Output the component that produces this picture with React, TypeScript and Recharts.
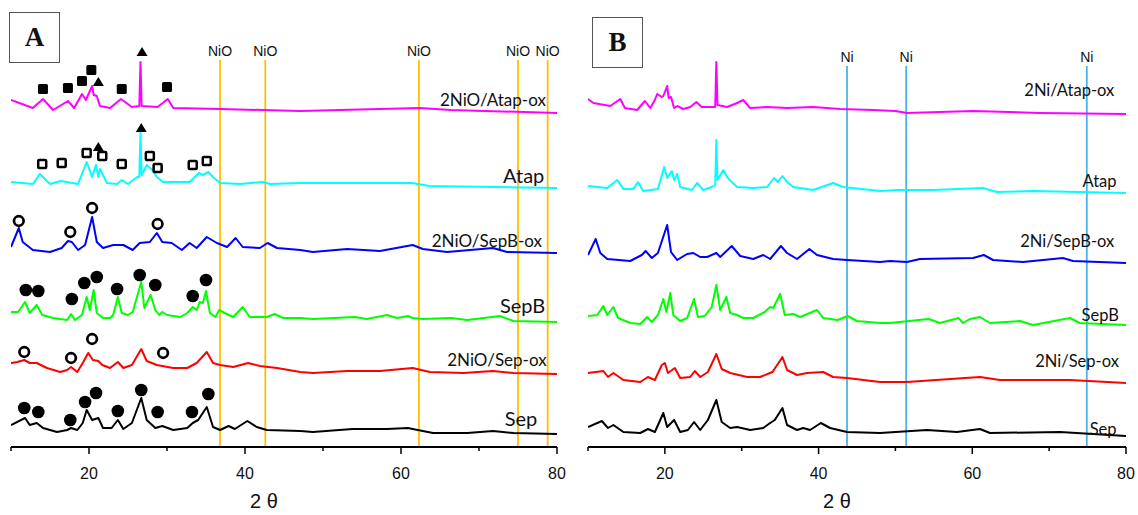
import {
  ComposedChart,
  Line,
  Scatter,
  XAxis,
  YAxis,
  ReferenceLine,
  ReferenceDot,
} from "recharts";

type Pt = [number, number];

// x = 2θ (deg), y = intensity (a.u., already offset for stacking)

// ---- Panel A ----
const atapOxA: Pt[] = [
  [10, 347], [12.8, 339], [14.1, 348], [15.4, 337], [17.3, 346], [18.1, 339], [19.1, 353],
  [19.6, 347], [20.4, 361], [20.6, 352], [21.0, 351], [21.4, 341], [22.7, 339], [24.1, 348],
  [25.5, 340], [26.45, 341], [26.6, 385], [26.75, 341], [28.8, 340], [30.1, 348], [30.8, 339],
  [36.8, 338], [47.1, 336], [62.4, 339], [66.4, 337], [80, 334],
];
const atapA: Pt[] = [
  [10, 265], [12.8, 263], [13.7, 273], [15.0, 263], [16.4, 266], [18.6, 263], [19.7, 285],
  [20.4, 270], [20.9, 282], [21.2, 270], [21.4, 278], [22.3, 264], [23.6, 263], [24.2, 267],
  [25.0, 263], [26.2, 270], [26.45, 270], [26.6, 314], [26.75, 272], [27.4, 282], [28.1, 277],
  [28.7, 270], [29.5, 265], [32.9, 265], [34.1, 274], [34.6, 272], [35.3, 275], [35.9, 270],
  [36.8, 264], [39.4, 263], [42.3, 265], [43.2, 263], [47.1, 264], [61.4, 264], [63.7, 261],
  [80, 259],
];
const sepBOxA: Pt[] = [
  [10, 200], [11.0, 219], [11.5, 205], [12.8, 197], [15.0, 195], [16.5, 199], [17.3, 206],
  [17.8, 205], [18.6, 197], [19.5, 202], [20.4, 230], [21.0, 205], [21.8, 199], [23.1, 202],
  [24.4, 202], [25.6, 197], [26.5, 204], [27.8, 205], [28.7, 214], [29.4, 205], [30.6, 204],
  [31.9, 197], [32.9, 204], [33.8, 199], [35.1, 210], [36.4, 204], [37.7, 200], [38.8, 209],
  [39.7, 200], [41.9, 199], [42.9, 204], [44.1, 199], [47.1, 197], [48.7, 195], [53.1, 198],
  [57.3, 196], [61.5, 202], [62.8, 198], [65.9, 195], [71.8, 199], [73.6, 195], [80, 194],
];
const sepBA: Pt[] = [
  [10, 135], [10.9, 135], [11.8, 145], [12.4, 134], [13.3, 142], [14.0, 132], [15.4, 129],
  [17.2, 127], [17.7, 133], [18.2, 127], [19.1, 132], [19.7, 150], [20.1, 137], [20.6, 157],
  [21.0, 134], [21.8, 129], [22.7, 129], [23.1, 132], [23.7, 150], [24.2, 134], [25.0, 132],
  [25.6, 135], [26.7, 165], [27.1, 139], [27.9, 152], [28.5, 137], [29.0, 132], [29.4, 135],
  [30.0, 132], [31.7, 130], [32.6, 134], [33.3, 140], [33.8, 137], [34.2, 145], [34.6, 144],
  [35.0, 156], [35.5, 134], [36.2, 130], [36.7, 137], [37.4, 134], [38.5, 130], [39.7, 140],
  [40.6, 130], [42.8, 130], [43.8, 133], [44.9, 129], [47.1, 129], [48.7, 128], [54.1, 130],
  [55.6, 128], [58.2, 132], [59.5, 129], [60.9, 131], [61.5, 129], [62.8, 128], [66.4, 129],
  [68.5, 127], [72.7, 131], [74.4, 126], [80, 125],
];
const sepOxA: Pt[] = [
  [10, 84], [10.8, 85], [11.7, 87], [12.4, 84], [13.3, 84], [14.6, 79], [16.3, 75], [17.2, 77],
  [17.7, 80], [18.5, 75], [19.2, 84], [19.9, 94], [20.5, 87], [21.2, 86], [21.7, 82], [22.7, 79],
  [23.7, 85], [24.4, 79], [25.5, 82], [26.7, 98], [27.4, 86], [28.7, 82], [30.8, 79], [32.6, 79],
  [33.8, 84], [35.1, 95], [35.9, 84], [36.8, 82], [38.5, 80], [40.4, 84], [41.9, 81], [44.1, 79],
  [47.1, 75], [48.7, 74], [53.1, 76], [57.3, 76], [61.5, 79], [63.7, 75], [68.0, 74], [71.8, 76],
  [74.4, 74], [80, 73],
];
const sepA: Pt[] = [
  [10, 22], [11.8, 29], [12.4, 22], [13.3, 24], [14.1, 19], [15.9, 15], [17.2, 17], [17.7, 19],
  [18.5, 17], [19.2, 24], [19.7, 37], [20.4, 27], [21.2, 29], [21.8, 19], [22.9, 19], [23.7, 27],
  [24.4, 18], [25.5, 24], [26.7, 49], [27.4, 27], [28.5, 19], [29.4, 21], [30.8, 17], [32.6, 19],
  [33.3, 24], [34.0, 27], [35.1, 40], [35.9, 20], [36.8, 17], [37.9, 21], [38.7, 18], [40.3, 26],
  [41.5, 20], [42.8, 17], [47.1, 16], [48.7, 15], [53.8, 18], [58.2, 18], [60.9, 19], [61.5, 18],
  [64.1, 14], [68.5, 14], [71.8, 16], [74.4, 14], [80, 13],
];

// phase markers, panel A
const filledSquaresA: Pt[] = [[14.1, 358], [17.3, 359], [19.1, 366], [20.3, 377], [24.2, 358], [30.0, 360]];
const openSquaresA: Pt[] = [
  [14.0, 283], [16.5, 284], [19.7, 294], [21.7, 291], [24.2, 283], [27.8, 291], [28.8, 279],
  [33.3, 282], [35.1, 286],
];
const trianglesA: Pt[] = [[21.2, 365], [26.8, 395], [21.2, 300], [26.7, 319]];
const openCirclesA: Pt[] = [
  [11.0, 226], [17.6, 215], [20.4, 239], [28.8, 223],
  [11.7, 95], [17.7, 89], [20.4, 108], [29.5, 94],
];
const filledCirclesA: Pt[] = [
  [11.9, 157], [13.5, 156], [17.8, 148], [19.4, 164], [21.0, 170], [23.6, 158], [26.5, 172],
  [28.5, 162], [33.3, 151], [35.0, 167],
  [11.7, 39], [13.5, 35], [17.6, 27], [19.5, 45], [20.9, 54], [23.7, 36], [26.7, 57],
  [28.8, 35], [33.2, 35], [35.3, 53],
];

const nioLines = [36.8, 42.6, 62.3, 75.0, 78.8];

// ---- Panel B ----
const atapOxB: Pt[] = [
  [10, 348], [10.7, 344], [12.9, 341], [14.2, 348], [14.8, 339], [16.4, 337], [17.4, 346],
  [18.1, 339], [18.7, 347], [19.0, 353], [19.6, 350], [19.8, 351], [20.3, 361], [20.5, 349],
  [20.8, 350], [21.2, 339], [21.6, 341], [22.4, 338], [23.3, 340], [24.1, 345], [24.8, 340],
  [26.1, 340], [26.55, 340], [26.7, 385], [26.85, 342], [28.1, 340], [29.4, 344], [30.2, 347],
  [31.1, 339], [33.3, 340], [35.9, 339], [39.3, 340], [42.8, 338], [47.1, 337], [50.0, 336],
  [51.5, 334], [60.1, 336], [68.8, 334], [80, 333],
];
const atapB: Pt[] = [
  [10, 261], [12.5, 259], [13.8, 267], [14.6, 258], [15.9, 258], [16.5, 265], [17.2, 256],
  [19.1, 258], [19.9, 280], [20.3, 269], [20.9, 276], [21.2, 267], [21.6, 273], [22.0, 260],
  [23.5, 257], [24.2, 264], [25.0, 257], [26.1, 260], [26.55, 262], [26.7, 307], [26.85, 267],
  [27.6, 277], [28.1, 270], [28.7, 265], [29.4, 260], [31.5, 259], [33.3, 260], [34.2, 269],
  [34.7, 265], [35.3, 271], [35.9, 265], [36.7, 260], [39.3, 257], [41.9, 264], [43.2, 260],
  [48.0, 256], [50.2, 257], [54.9, 257], [61.4, 259], [63.2, 255], [67.9, 256], [80, 254],
];
const sepBOxB: Pt[] = [
  [10, 192], [11.0, 208], [11.6, 194], [12.5, 188], [15.5, 186], [17.0, 192], [17.5, 196],
  [18.3, 189], [19.1, 194], [20.3, 222], [20.8, 195], [21.6, 187], [22.9, 193], [23.7, 194],
  [24.6, 190], [25.5, 190], [26.7, 194], [27.2, 190], [28.7, 201], [29.8, 191], [31.5, 188],
  [32.8, 192], [33.7, 188], [35.1, 201], [35.9, 194], [37.2, 188], [38.8, 198], [39.8, 192],
  [41.9, 188], [43.7, 187], [48.0, 185], [49.3, 186], [51.5, 185], [53.2, 188], [60.1, 189],
  [61.5, 192], [62.7, 187], [66.6, 185], [71.8, 189], [73.1, 186], [80, 184],
];
const sepBB: Pt[] = [
  [10, 131], [11.2, 132], [12.0, 141], [12.5, 132], [13.3, 140], [13.9, 129], [15.5, 124],
  [16.8, 123], [17.7, 130], [18.3, 125], [19.1, 132], [19.8, 148], [20.2, 135], [20.7, 154],
  [21.1, 132], [22.0, 126], [22.9, 129], [23.8, 148], [24.3, 130], [25.2, 131], [26.1, 140],
  [26.7, 162], [27.2, 137], [28.0, 150], [28.5, 134], [29.4, 132], [30.2, 129], [31.5, 129],
  [33.0, 135], [33.7, 140], [34.1, 139], [35.0, 153], [35.6, 132], [36.7, 133], [37.6, 130],
  [39.8, 137], [40.6, 129], [42.5, 127], [43.8, 131], [45.0, 126], [48.0, 124], [49.3, 124],
  [54.3, 128], [55.8, 124], [58.2, 129], [58.8, 124], [59.7, 128], [61.0, 130], [62.3, 124],
  [66.2, 126], [67.9, 122], [72.7, 129], [74.0, 124], [80, 122],
];
const sepOxB: Pt[] = [
  [10, 74], [12.0, 76], [12.6, 70], [13.3, 74], [14.6, 67], [16.8, 65], [17.8, 70], [18.7, 67],
  [19.6, 82], [20.0, 84], [20.4, 74], [21.3, 79], [22.0, 69], [23.3, 70], [23.9, 76], [24.6, 70],
  [25.6, 75], [26.7, 93], [27.4, 78], [28.5, 74], [30.7, 70], [32.4, 70], [34.0, 75], [35.3, 90],
  [35.9, 77], [37.2, 72], [38.5, 74], [40.6, 75], [41.9, 70], [43.7, 69], [48.0, 65], [51.5, 65],
  [61.0, 70], [63.6, 67], [72.7, 67], [80, 64],
];
const sepB: Pt[] = [
  [10, 20], [11.8, 26], [12.6, 19], [13.3, 22], [14.6, 15], [16.8, 14], [17.8, 18], [18.7, 15],
  [19.4, 27], [19.8, 34], [20.3, 20], [21.2, 27], [22.0, 15], [23.0, 17], [23.8, 25], [24.6, 17],
  [25.6, 27], [26.7, 47], [27.4, 25], [28.5, 19], [29.4, 20], [31.1, 17], [32.8, 19], [33.7, 24],
  [34.3, 27], [35.3, 39], [35.9, 22], [37.2, 17], [38.0, 19], [38.9, 17], [40.3, 24], [41.5, 19],
  [43.7, 15], [48.0, 14], [54.1, 17], [58.0, 15], [61.0, 18], [62.3, 14], [71.4, 15], [80, 11],
];

const niLines = [43.7, 51.4, 74.9];

const xTicks = [10, 20, 30, 40, 50, 60, 70, 80];

const toRows = (pts: Pt[]) => pts.map(([x, y]) => ({ x, y }));

const FilledSquare = (p: any) => (
  <rect x={p.cx - 5} y={p.cy - 5} width={10} height={10} rx={1.5} fill="#000" />
);
const OpenSquare = (p: any) => (
  <rect x={p.cx - 4} y={p.cy - 4} width={8} height={8} rx={1} fill="#fff" stroke="#000" strokeWidth={2.5} />
);
const Triangle = (p: any) => (
  <path d={`M${p.cx},${p.cy - 5} L${p.cx + 5.5},${p.cy + 4} L${p.cx - 5.5},${p.cy + 4} Z`} fill="#000" />
);
const OpenCircle = (p: any) => (
  <circle cx={p.cx} cy={p.cy} r={4.8} fill="#fff" stroke="#000" strokeWidth={2.7} />
);
const FilledCircle = (p: any) => <circle cx={p.cx} cy={p.cy} r={6.3} fill="#000" />;

const AxisTick = (props: any) => {
  const { x, y, payload } = props;
  const major = payload.value % 20 === 0;
  return (
    <g>
      <line x1={x} y1={y} x2={x} y2={y + (major ? 7 : 4)} stroke="#000" strokeWidth={1.5} />
      {major && (
        <text x={x} y={y + 32} textAnchor="middle" fontSize={16} fontFamily="Liberation Sans, Arial" fill="#111">
          {payload.value}
        </text>
      )}
    </g>
  );
};

interface Trace {
  pts: Pt[];
  color: string;
  label: string;
  lx: number;
  ly: number;
  size: number;
}

interface Marks {
  pts: Pt[];
  shape: (p: any) => JSX.Element;
}

interface PanelProps {
  width: number;
  left: number;
  right: number;
  traces: Trace[];
  marks: Marks[];
  refLines: number[];
  refTop: number;
  refColor: string;
  refLabel: string;
}

const Panel = ({ width, left, right, traces, marks, refLines, refTop, refColor, refLabel }: PanelProps) => (
  <ComposedChart width={width} height={515} margin={{ top: 0, right, bottom: 0, left }}>
    <XAxis
      type="number"
      dataKey="x"
      domain={[10, 80]}
      ticks={xTicks}
      interval={0}
      tick={<AxisTick />}
      tickLine={false}
      tickSize={0}
      tickMargin={0}
      height={68}
      axisLine={{ stroke: "#000", strokeWidth: 2 }}
      allowDataOverflow
      label={{
        value: "2 θ",
        position: "insideBottom",
        offset: 7,
        dx: -20,
        fontSize: 20,
        fill: "#111",
        fontFamily: "Liberation Sans, Arial",
      }}
    />
    <YAxis type="number" dataKey="y" domain={[0, 447]} hide allowDataOverflow />
    {refLines.map((x) => (
      <ReferenceLine
        key={x}
        segment={[{ x, y: 0 }, { x, y: refTop }]}
        stroke={refColor}
        strokeWidth={1.8}
        label={{ value: refLabel, position: "top", offset: 4, fontSize: 14, fill: "#111", fontFamily: "Liberation Sans, Arial" }}
      />
    ))}
    {traces.map((t) => (
      <Line
        key={t.label}
        data={toRows(t.pts)}
        dataKey="y"
        type="linear"
        stroke={t.color}
        strokeWidth={2}
        strokeLinejoin="round"
        dot={false}
        isAnimationActive={false}
      />
    ))}
    {marks.map((m, i) => (
      <Scatter key={i} data={toRows(m.pts)} dataKey="y" shape={m.shape} isAnimationActive={false} />
    ))}
    {traces.map((t) => (
      <ReferenceDot
        key={"l" + t.label}
        x={t.lx}
        y={t.ly}
        r={1}
        fill="none"
        stroke="none"
        label={{ value: t.label, position: "left", offset: 0, fontSize: t.size, fill: "#111", fontFamily: "Lato, sans-serif" }}
      />
    ))}
  </ComposedChart>
);

const tracesA: Trace[] = [
  { pts: atapOxA, color: "#ff00ff", label: "2NiO/Atap-ox", lx: 78.7, ly: 347, size: 17 },
  { pts: atapA, color: "#00ffff", label: "Atap", lx: 78.5, ly: 271, size: 20 },
  { pts: sepBOxA, color: "#0000ff", label: "2NiO/SepB-ox", lx: 78.2, ly: 206, size: 17 },
  { pts: sepBA, color: "#00ff00", label: "SepB", lx: 78.6, ly: 141, size: 20 },
  { pts: sepOxA, color: "#ff0000", label: "2NiO/Sep-ox", lx: 78.8, ly: 87, size: 17 },
  { pts: sepA, color: "#000000", label: "Sep", lx: 77.6, ly: 28, size: 20 },
];

const tracesB: Trace[] = [
  { pts: atapOxB, color: "#ff00ff", label: "2Ni/Atap-ox", lx: 78.6, ly: 357, size: 16.5 },
  { pts: atapB, color: "#00ffff", label: "Atap", lx: 78.9, ly: 266, size: 16.5 },
  { pts: sepBOxB, color: "#0000ff", label: "2Ni/SepB-ox", lx: 78.6, ly: 206, size: 16.5 },
  { pts: sepBB, color: "#00ff00", label: "SepB", lx: 79.2, ly: 132, size: 16.5 },
  { pts: sepOxB, color: "#ff0000", label: "2Ni/Sep-ox", lx: 79.2, ly: 86, size: 16.5 },
  { pts: sepB, color: "#000000", label: "Sep", lx: 78.9, ly: 18, size: 16.5 },
];

const marksA: Marks[] = [
  { pts: filledSquaresA, shape: FilledSquare },
  { pts: openSquaresA, shape: OpenSquare },
  { pts: trianglesA, shape: Triangle },
  { pts: openCirclesA, shape: OpenCircle },
  { pts: filledCirclesA, shape: FilledCircle },
];

const boxStyle = {
  position: "absolute" as const,
  width: 49,
  height: 49,
  border: "1.5px solid #555",
  display: "flex",
  alignItems: "center",
  justifyContent: "center",
  fontFamily: "Liberation Serif, Times New Roman, serif",
  fontWeight: 700,
  fontSize: 27,
  color: "#111",
  background: "#fff",
};

export default function App() {
  return (
    <div style={{ position: "absolute", left: 0, top: 0, width: 1138, height: 515, background: "#fff", overflow: "hidden" }}>
      <div style={{ position: "absolute", left: 0, top: 0 }}>
        <Panel
          width={575}
          left={11}
          right={18}
          traces={tracesA}
          marks={marksA}
          refLines={nioLines}
          refTop={387}
          refColor="#ffbf00"
          refLabel="NiO"
        />
      </div>
      <div style={{ position: "absolute", left: 575, top: 0 }}>
        <Panel
          width={563}
          left={13}
          right={12}
          traces={tracesB}
          marks={[]}
          refLines={niLines}
          refTop={381}
          refColor="#48b4e6"
          refLabel="Ni"
        />
      </div>
      <div style={{ ...boxStyle, left: 9, top: 12 }}>A</div>
      <div style={{ ...boxStyle, left: 592, top: 17 }}>B</div>
    </div>
  );
}
